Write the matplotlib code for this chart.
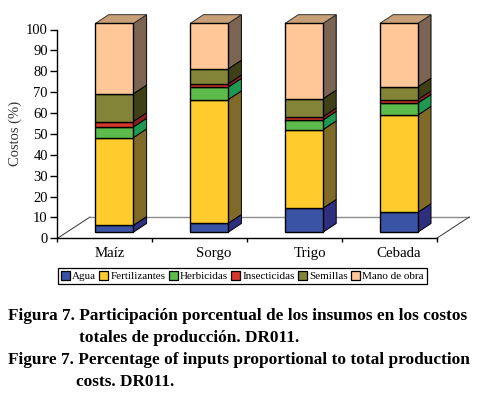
#!/usr/bin/env python3
"""Stacked pseudo-3D bars: share of inputs in production costs, DR011."""
import numpy as np
import matplotlib.pyplot as plt
from matplotlib.patches import Patch

plt.rcParams["font.family"] = ["Liberation Serif", "DejaVu Serif"]

# Data (% of total cost)
crops = ["Maíz", "Sorgo", "Trigo", "Cebada"]
inputs = ["Agua", "Fertilizantes", "Herbicidas", "Insecticidas", "Semillas", "Mano de obra"]
agua = [3.3, 4.3, 11.5, 9.5]
fertilizantes = [42.0, 59.2, 37.6, 46.6]
herbicidas = [5.1, 6.0, 4.6, 5.7]
insecticidas = [2.6, 1.6, 1.6, 1.7]
semillas = [13.3, 7.1, 8.6, 6.1]
mano_de_obra = [33.7, 21.8, 36.1, 30.4]

series = [agua, fertilizantes, herbicidas, insecticidas, semillas, mano_de_obra]

# Colours
FRONT = ["#3A53A4", "#FFCB2D", "#5CBB4B", "#D8352B", "#848438", "#FFC698"]
SIDE = ["#2F2F80", "#7F6A28", "#1F9850", "#8C2020", "#404018", "#7B6552"]
TOP = "#C8A078"

W, H = 481, 399
fig = plt.figure(figsize=(W / 100, H / 100), dpi=100)
ax = fig.add_axes([57.5 / W, 1 - 238.3 / H, 379.2 / W, 208.8 / H])
ax.set_xlim(0, 4)
ax.set_ylim(0, 100)

# depth of the fake 3D, in data units
DX, DY = 0.14, 4.2
LIFT = 2.9       # front face sits above the axis line
BAR_W = 0.40
FLOOR_DX, FLOOR_DY = 0.343, 10.2
centers = np.arange(4) + 0.6

# floor
ax.plot([0, FLOOR_DX], [0, FLOOR_DY], color="#333333", lw=0.7, clip_on=False, zorder=1)
ax.plot([FLOOR_DX, 4 + FLOOR_DX], [FLOOR_DY, FLOOR_DY], color="#8C8C8C", lw=1.0, clip_on=False, zorder=1)
ax.plot([4, 4 + FLOOR_DX], [0, FLOOR_DY], color="#333333", lw=0.7, clip_on=False, zorder=1)

bottom = np.full(4, LIFT)
for vals, front, side in zip(series, FRONT, SIDE):
    vals = np.array(vals)
    ax.bar(centers, vals, BAR_W, bottom=bottom, color=front, edgecolor="black",
           linewidth=1.0, clip_on=False, zorder=3)
    for c, b, v in zip(centers, bottom, vals):
        r = c + BAR_W / 2
        ax.fill([r, r + DX, r + DX, r], [b, b + DY, b + v + DY, b + v],
                facecolor=side, edgecolor="black", linewidth=0.7, clip_on=False, zorder=2)
    bottom = bottom + vals

# lid of each bar
for c, b in zip(centers, bottom):
    l, r = c - BAR_W / 2, c + BAR_W / 2
    ax.fill([l, l + DX, r + DX, r], [b, b + DY, b + DY, b],
            facecolor=TOP, edgecolor="#333333", linewidth=0.7, clip_on=False, zorder=2)

# axes
ax.patch.set_alpha(0)
ax.spines["top"].set_visible(False)
ax.spines["right"].set_visible(False)
ax.spines["left"].set_linewidth(1.0)
ax.spines["bottom"].set_linewidth(1.0)
ax.set_yticks(np.arange(0, 101, 10))
ax.tick_params(axis="y", length=5, width=1.0, pad=2, labelsize=10.5)
ax.set_xticks(np.arange(5))
ax.set_xticklabels([])
ax.tick_params(axis="x", length=3, width=1.0)
ax.set_xticks([0.55, 1.65, 2.66, 3.6], minor=True)
ax.set_xticklabels(crops, minor=True, fontsize=10.7)
ax.tick_params(axis="x", which="minor", length=0, pad=6)

fig.text(15 / W, 1 - 133 / H, "Costos (%)", rotation=90, ha="center", va="center",
         fontsize=10.5, color="#333333")

# legend
handles = [Patch(facecolor=c, edgecolor="black", linewidth=0.9) for c in FRONT]
leg = fig.legend(handles, inputs, ncol=6, loc="lower left",
                 bbox_to_anchor=(58 / W, 1 - 284 / H), fontsize=8,
                 frameon=True, fancybox=False, edgecolor="black", framealpha=1,
                 handlelength=0.8, handleheight=0.8, handletextpad=0.2,
                 columnspacing=0.3, borderpad=0.25, borderaxespad=0)
leg.get_frame().set_linewidth(0.9)

# caption
caption = [
    (8, 316, "Figura 7. Participación porcentual de los insumos en los costos"),
    (79, 338, "totales de producción. DR011."),
    (8, 360, "Figure 7. Percentage of inputs proportional to total production"),
    (76, 382, "costs. DR011."),
]
for x, y, line in caption:
    fig.text(x / W, 1 - y / H, line, fontsize=12.4, fontweight="bold", ha="left", va="center")

fig.savefig("out.png", dpi=100)
